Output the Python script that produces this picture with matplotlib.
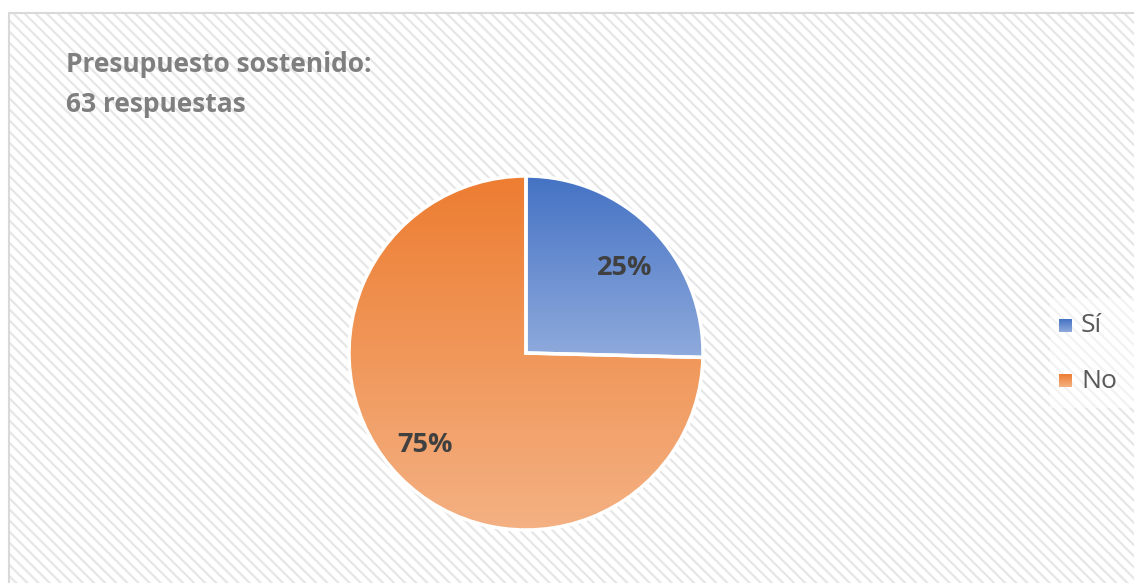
import numpy as np
import matplotlib
matplotlib.use("Agg")
import matplotlib.pyplot as plt
from matplotlib.patches import Rectangle, Wedge
from matplotlib.colors import LinearSegmentedColormap

title_lines = ["Presupuesto sostenido:", "63 respuestas"]
categories = ["Sí", "No"]
values = [16, 47]
pct_labels = ["25%", "75%"]
top_colors = ["#4472C4", "#ED7D31"]
bottom_colors = ["#8FAADC", "#F4B183"]

W, H = 1134, 583
plt.rcParams['hatch.linewidth'] = 1.6
fig = plt.figure(figsize=(W / 100, H / 100), dpi=100)
ax = fig.add_axes([0, 0, 1, 1])
ax.set_xlim(0, W)
ax.set_ylim(0, H)
ax.set_aspect('equal')
ax.axis('off')

# background with diagonal hatch
bg = Rectangle((9, -10), W, H - 13 + 10, facecolor='white', edgecolor='#E6E6E6',
               linewidth=0, hatch='\\\\\\', zorder=0)
ax.add_patch(bg)
border = Rectangle((9, -10), W, H - 13 + 10, facecolor='none', edgecolor='#D9D9D9',
                   linewidth=1.5, zorder=1)
ax.add_patch(border)

# title
ax.text(66, H - 72, title_lines[0], fontsize=19, fontweight='bold', color='#7F7F7F',
        family='Open Sans', va='baseline', ha='left', zorder=5)
ax.text(66, H - 112, title_lines[1], fontsize=19, fontweight='bold', color='#7F7F7F',
        family='Open Sans', va='baseline', ha='left', zorder=5)

cx, cy, r = 526, H - 353, 177
wedges, _ = ax.pie(values, startangle=90, counterclock=False, center=(cx, cy),
                   radius=r, frame=True,
                   wedgeprops=dict(edgecolor='white', linewidth=2.5))
ax.set_xlim(0, W)
ax.set_ylim(0, H)
ax.axis('off')

grad = np.linspace(0, 1, 256).reshape(-1, 1)
for w, tc, bc in zip(wedges, top_colors, bottom_colors):
    w.set_zorder(3)
    bb = w.get_path().get_extents(w.get_patch_transform())
    cmap = LinearSegmentedColormap.from_list('g', [bc, tc])
    im = ax.imshow(grad, cmap=cmap, extent=(bb.x0, bb.x1, bb.y0, bb.y1),
                   origin='lower', aspect='auto', zorder=2, interpolation='bilinear')
    im.set_clip_path(w)
    w.set_facecolor('none')

# percentage labels
ax.text(625, H - 268, pct_labels[0], fontsize=19.5, fontweight='bold', color='#404040',
        family='Open Sans', ha='center', va='center', zorder=5)
ax.text(425, H - 445, pct_labels[1], fontsize=19.5, fontweight='bold', color='#404040',
        family='Open Sans', ha='center', va='center', zorder=5)

# legend
ax.add_patch(Rectangle((1050, H - 408), 84, 110, facecolor='white', edgecolor='none',
                       alpha=0.5, zorder=4))
leg_y = [H - 326, H - 381]
for i, (cat, tc, bc) in enumerate(zip(categories, top_colors, bottom_colors)):
    y = leg_y[i]
    cmap = LinearSegmentedColormap.from_list('g', [bc, tc])
    ax.imshow(grad, cmap=cmap, extent=(1059, 1072, y - 6.5, y + 6.5),
              origin='lower', aspect='auto', zorder=5, interpolation='bilinear')
    ax.text(1081, y, cat, fontsize=19, color='#595959', family='Open Sans',
            ha='left', va='center', zorder=5)

ax.set_xlim(0, W)
ax.set_ylim(0, H)
fig.savefig('out.png', dpi=100)
